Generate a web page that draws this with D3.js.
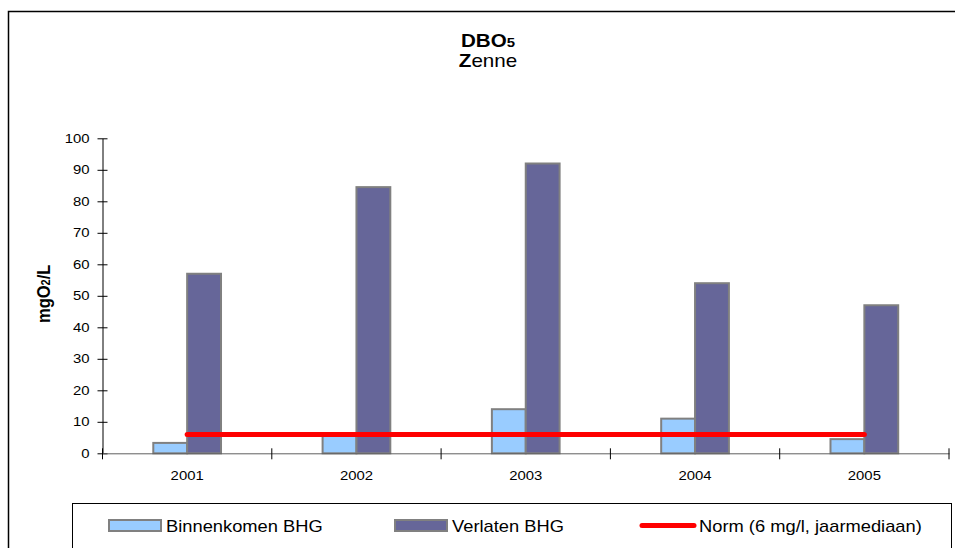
<!DOCTYPE html>
<html>
<head>
<meta charset="utf-8">
<script src="https://cdn.jsdelivr.net/npm/d3@7"></script>
<style>
  html, body { margin: 0; padding: 0; background: #fff; }
  svg { display: block; font-family: "Liberation Sans", Arial, sans-serif; }
</style>
</head>
<body>
<svg id="chart" width="955" height="548"></svg>
<script>
// BOD5 measurements on the Zenne, entering and leaving the Brussels region
const years = ["2001", "2002", "2003", "2004", "2005"];
const binnenkomen = [3.3, 5.5, 14, 11, 4.5];
const verlaten = [57, 84.5, 92, 54, 47];
const norm = [6, 6, 6, 6, 6];
const yTicks = [0, 10, 20, 30, 40, 50, 60, 70, 80, 90, 100];
const legendLabels = ["Binnenkomen BHG", "Verlaten BHG", "Norm (6 mg/l, jaarmediaan)"];

const colors = { light: "#99ccff", dark: "#666699", norm: "#ff0000", edge: "#808080" };
const SX = 1.145; // horizontal widening applied to all lettering

// widen a text element horizontally around its own anchor x
function widen(sel) {
  sel.each(function () {
    const t = d3.select(this);
    const x0 = +t.attr("x") || 0;
    const y0 = +t.attr("y") || 0;
    t.attr("x", 0).attr("y", 0)
      .attr("transform", `translate(${x0},${y0}) scale(${SX},1)`);
  });
}

const svg = d3.select("#chart");

// outer chart frame
svg.append("rect")
  .attr("x", 8.5).attr("y", 11.5)
  .attr("width", 960).attr("height", 560)
  .attr("fill", "#fff").attr("stroke", "#000").attr("stroke-width", 1.5);

const plot = { left: 102.5, right: 949, top: 138.3, bottom: 453.3 };

const x = d3.scaleBand().domain(years).range([plot.left, plot.right]).paddingInner(0).paddingOuter(0);
const y = d3.scaleLinear().domain([0, 100]).range([plot.bottom, plot.top]);
const barW = x.bandwidth() * 0.2;

// title
const title = svg.append("text").attr("x", 488).attr("y", 47)
  .attr("text-anchor", "middle").attr("font-size", 18).attr("font-weight", "bold");
title.append("tspan").text("DBO");
title.append("tspan").attr("font-size", 13).text("5");
widen(title);

const sub = svg.append("text").attr("x", 488).attr("y", 67)
  .attr("text-anchor", "middle").attr("font-size", 18);
sub.append("tspan").attr("font-weight", "bold").text("Z");
sub.append("tspan").text("enne");
widen(sub);

// y axis title
const yl = svg.append("text")
  .attr("transform", `translate(50,${(plot.top + plot.bottom) / 2 - 2}) rotate(-90) scale(1,${SX})`)
  .attr("text-anchor", "middle").attr("font-size", 16.5).attr("font-weight", "bold");
yl.append("tspan").text("mgO");
yl.append("tspan").attr("font-size", 11).text("2");
yl.append("tspan").text("/L");

// bars
const g = svg.append("g");
g.selectAll(".b1").data(years).join("rect")
  .attr("x", d => x(d) + x.bandwidth() / 2 - barW)
  .attr("y", (d, i) => y(binnenkomen[i]))
  .attr("width", barW)
  .attr("height", (d, i) => y(0) - y(binnenkomen[i]))
  .attr("fill", colors.light).attr("stroke", colors.edge).attr("stroke-width", 2);

g.selectAll(".b2").data(years).join("rect")
  .attr("x", d => x(d) + x.bandwidth() / 2)
  .attr("y", (d, i) => y(verlaten[i]))
  .attr("width", barW)
  .attr("height", (d, i) => y(0) - y(verlaten[i]))
  .attr("fill", colors.dark).attr("stroke", colors.edge).attr("stroke-width", 2);

// y axis
const yAxis = d3.axisLeft(y).tickValues(yTicks).tickSize(0).tickPadding(13);
const ya = svg.append("g").attr("transform", `translate(${plot.left},0)`).call(yAxis);
ya.select(".domain").attr("stroke", "#000");
ya.selectAll(".tick line").attr("stroke", "#000").attr("x1", -5).attr("x2", 5);
ya.selectAll(".tick text").attr("font-size", 13).attr("fill", "#000")
  .attr("font-family", "Liberation Sans, Arial, sans-serif").call(widen);

// x axis
const xa = svg.append("g").attr("transform", `translate(0,${plot.bottom})`)
  .call(d3.axisBottom(x).tickSize(0).tickPadding(17));
xa.select(".domain").attr("stroke", "#606060");
xa.selectAll(".tick text").attr("font-size", 13).attr("fill", "#000")
  .attr("font-family", "Liberation Sans, Arial, sans-serif").call(widen);
const bounds = years.map(d => x(d)).concat([x(years[years.length - 1]) + x.bandwidth()]);
xa.selectAll(".sep").data(bounds).join("line")
  .attr("x1", d => d).attr("x2", d => d).attr("y1", -5).attr("y2", 6)
  .attr("stroke", "#000");

// norm line
const line = d3.line().x((d, i) => x(years[i]) + x.bandwidth() / 2).y(d => y(d));
svg.append("path").datum(norm).attr("d", line)
  .attr("fill", "none").attr("stroke", colors.norm).attr("stroke-width", 5)
  .attr("stroke-linecap", "round");

// legend
const lg = svg.append("g");
lg.append("rect").attr("x", 72.5).attr("y", 503.5).attr("width", 879).attr("height", 60)
  .attr("fill", "#fff").attr("stroke", "#000").attr("stroke-width", 1);

const items = [
  { sx: 109, tx: 166, type: "bar", color: colors.light },
  { sx: 395, tx: 452, type: "bar", color: colors.dark },
  { sx: 642, tx: 699, type: "line", color: colors.norm }
];
items.forEach((it, i) => {
  if (it.type === "bar") {
    lg.append("rect").attr("x", it.sx).attr("y", 520).attr("width", 52).attr("height", 11)
      .attr("fill", it.color).attr("stroke", colors.edge).attr("stroke-width", 2);
  } else {
    lg.append("line").attr("x1", it.sx).attr("x2", it.sx + 52).attr("y1", 525.5).attr("y2", 525.5)
      .attr("stroke", it.color).attr("stroke-width", 5).attr("stroke-linecap", "round");
  }
  lg.append("text").attr("x", it.tx).attr("y", 531.5).attr("font-size", 16)
    .text(legendLabels[i]).call(widen);
});
</script>
</body>
</html>
